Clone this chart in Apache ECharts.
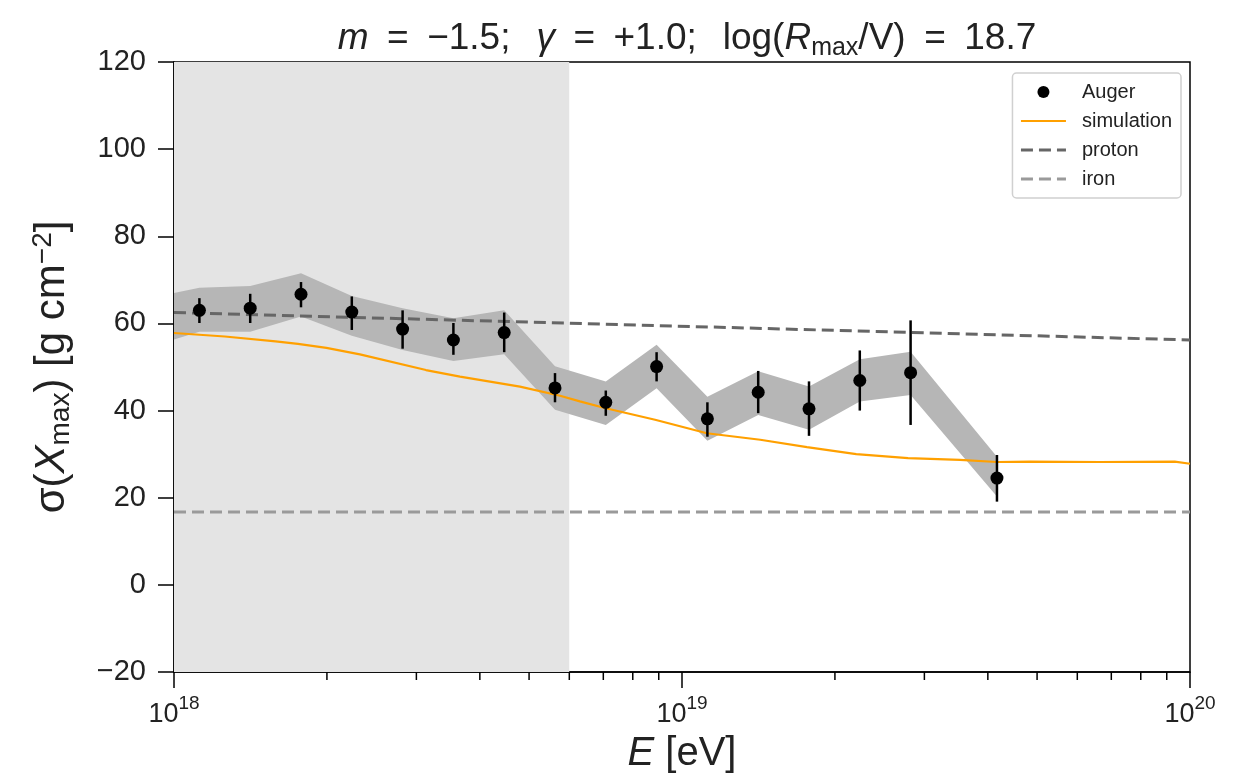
<!DOCTYPE html>
<html>
<head>
<meta charset="utf-8">
<script src="https://cdn.jsdelivr.net/npm/echarts@6/dist/echarts.min.js"></script>
<style>
html,body{margin:0;padding:0;background:#fff;}
#chart{width:1252px;height:774px;}
</style>
</head>
<body>
<div id="chart"></div>
<script>
// ---- data (x values are log10(E/eV)) ----
const xMajorExp = [18, 19, 20];
const augerX = [18.05, 18.15, 18.25, 18.35, 18.45, 18.55, 18.65, 18.75, 18.85, 18.95, 19.05, 19.15, 19.25, 19.35, 19.45, 19.62];
const augerY = [63.0, 63.5, 66.7, 62.6, 58.7, 56.2, 57.9, 45.2, 41.9, 50.1, 38.1, 44.2, 40.4, 46.9, 48.7, 24.5];
const augerLo = [60.1, 60.1, 63.7, 58.5, 54.2, 52.8, 53.4, 41.9, 38.8, 46.7, 34.0, 39.4, 34.2, 40.0, 36.7, 19.1];
const augerHi = [65.8, 66.8, 69.5, 66.2, 63.0, 60.1, 62.5, 48.6, 44.6, 53.4, 41.9, 49.1, 46.7, 53.8, 60.7, 29.8];
const bandX = [18.0, 18.05, 18.15, 18.25, 18.35, 18.45, 18.55, 18.65, 18.75, 18.85, 18.95, 19.05, 19.15, 19.25, 19.35, 19.45, 19.62];
const bandLow = [56.3, 58.1, 58.1, 61.6, 57.2, 53.9, 51.4, 52.9, 40.2, 36.7, 45.1, 33.1, 39.0, 35.6, 42.1, 43.6, 20.3];
const bandHigh = [67.0, 68.2, 68.6, 71.5, 66.3, 63.5, 61.2, 63.0, 50.2, 46.7, 55.1, 43.2, 49.0, 45.5, 51.8, 53.5, 29.4];
const simX = [18.0, 18.1, 18.2, 18.244, 18.3, 18.366, 18.496, 18.563, 18.681, 18.76, 18.799, 18.848, 18.947, 19.049, 19.154, 19.246, 19.343, 19.445, 19.547, 19.62, 19.685, 19.823, 19.97, 20.0];
const simY = [57.8, 57.0, 55.9, 55.3, 54.4, 52.9, 49.3, 47.8, 45.5, 43.4, 42.1, 40.6, 37.9, 34.8, 33.3, 31.6, 30.0, 29.1, 28.7, 28.2, 28.3, 28.2, 28.3, 27.8];
const protonX = [18.0, 20.0];
const protonY = [62.5, 56.2];
const ironX = [18.0, 20.0];
const ironY = [16.75, 16.75];
const shadeRange = [18.0, 18.778];
const yTicks = [-20, 0, 20, 40, 60, 80, 100, 120];

// minor tick positions (log10 of 2..9 x 10^n)
const minorTicks = [];
for (let d = 18; d < 20; d++) for (let k = 2; k <= 9; k++) minorTicks.push(d + Math.log10(k));

const FONT = 'Liberation Sans';
const TXT = '#222';
const chart = echarts.init(document.getElementById('chart'), null, {renderer: 'canvas'});

const hideSym = {opacity: 0, borderWidth: 0};
const EN = '\u2002', TH = '\u2009';

const option = {
  backgroundColor: '#fff',
  animation: false,
  title: {
    text: '{i|m}{n|' + EN + '=' + EN + '\u22121.5;' + EN + TH + '}{i|\u03b3}{n|' + EN + '=' + EN + '+1.0;' + EN + TH + 'log(}{i|R}{sub|max}{n|/V)' + EN + '=' + EN + '18.7}',
    left: 682,
    textAlign: 'center',
    top: 12,
    textStyle: {
      fontWeight: 'normal',
      rich: {
        n: {fontFamily: FONT, fontSize: 37, fontWeight: 'normal', color: TXT, lineHeight: 44},
        i: {fontFamily: FONT, fontSize: 37, fontWeight: 'normal', fontStyle: 'italic', color: TXT, lineHeight: 44},
        sub: {fontFamily: FONT, fontSize: 25, fontWeight: 'normal', color: TXT, lineHeight: 18, verticalAlign: 'bottom'}
      }
    }
  },
  legend: {
    right: 71,
    top: 73,
    orient: 'vertical',
    data: [
      {name: 'Auger'},
      {name: 'simulation', itemStyle: hideSym, lineStyle: {width: 2.2}},
      {name: 'proton', itemStyle: hideSym, lineStyle: {width: 3}},
      {name: 'iron', itemStyle: hideSym, lineStyle: {width: 3}}
    ],
    itemWidth: 45,
    itemHeight: 12,
    itemGap: 9,
    padding: [9, 9, 9, 7],
    backgroundColor: '#fff',
    borderColor: '#d0d0d0',
    borderWidth: 1.5,
    borderRadius: 4,
    textStyle: {fontFamily: FONT, fontSize: 20, lineHeight: 20, color: TXT, padding: [0, 0, 0, 11]}
  },
  grid: {left: 174, right: 62, top: 62, bottom: 102, show: true, borderColor: '#000', borderWidth: 1.5,
         backgroundColor: 'transparent', containLabel: false, outerBoundsMode: 'none'},
  xAxis: {
    type: 'value', min: 18, max: 20, interval: 1,
    name: '{i|E}{n| [eV]}', nameLocation: 'middle', nameGap: 62,
    nameTextStyle: {rich: {
      n: {fontFamily: FONT, fontSize: 40, color: TXT, lineHeight: 40},
      i: {fontFamily: FONT, fontSize: 40, fontStyle: 'italic', color: TXT, lineHeight: 40}
    }},
    axisLine: {show: true, onZero: false, lineStyle: {color: '#000', width: 1.5}},
    axisTick: {show: true, inside: false, length: 16, lineStyle: {color: '#000', width: 1.5}},
    splitLine: {show: false},
    axisLabel: {
      margin: 22,
      formatter: v => '{b|10}{s|' + Math.round(v) + '}',
      rich: {
        b: {fontFamily: FONT, fontSize: 27, color: TXT, lineHeight: 34, verticalAlign: 'bottom'},
        s: {fontFamily: FONT, fontSize: 19, color: TXT, lineHeight: 20, verticalAlign: 'top'}
      }
    }
  },
  yAxis: {
    type: 'value', min: -20, max: 120, interval: 20,
    name: '{n|\u03c3(}{i|X}{sub|max}{n|) [g cm}{sup|\u22122}{n|]}',
    nameLocation: 'middle', nameGap: 99, nameRotate: 90,
    nameTextStyle: {rich: {
      n: {fontFamily: FONT, fontSize: 42, color: TXT, lineHeight: 46},
      i: {fontFamily: FONT, fontSize: 42, fontStyle: 'italic', color: TXT, lineHeight: 46},
      sub: {fontFamily: FONT, fontSize: 28, color: TXT, lineHeight: 20, verticalAlign: 'bottom'},
      sup: {fontFamily: FONT, fontSize: 28, color: TXT, lineHeight: 20, verticalAlign: 'top'}
    }},
    axisLine: {show: true, onZero: false, lineStyle: {color: '#000', width: 1.5}},
    axisTick: {show: true, inside: false, length: 16, lineStyle: {color: '#000', width: 1.5}},
    splitLine: {show: false},
    axisLabel: {
      margin: 28,
      fontFamily: FONT, fontSize: 29, color: TXT,
      formatter: v => (v < 0 ? '\u2212' + Math.abs(v) : String(v))
    }
  },
  series: [
    {
      name: 'shade', type: 'custom', z: 1, silent: true,
      data: [[shadeRange[0], shadeRange[1]]],
      renderItem: (params, api) => {
        const p0 = api.coord([api.value(0), 120]);
        const p1 = api.coord([api.value(1), -20]);
        return {type: 'rect', shape: {x: p0[0], y: p0[1], width: p1[0] - p0[0], height: p1[1] - p0[1]}, style: {fill: '#e4e4e4'}};
      }
    },
    {
      name: 'band', type: 'custom', z: 2, silent: true,
      data: [[bandX[0], bandLow[0]]],
      renderItem: (params, api) => {
        const pts = [];
        for (let i = 0; i < bandX.length; i++) pts.push(api.coord([bandX[i], bandHigh[i]]));
        for (let i = bandX.length - 1; i >= 0; i--) pts.push(api.coord([bandX[i], bandLow[i]]));
        return {type: 'polygon', shape: {points: pts}, style: {fill: '#b6b6b6'}};
      }
    },
    {
      name: 'iron', type: 'line', z: 3, symbol: 'none', showSymbol: false,
      data: ironX.map((x, i) => [x, ironY[i]]),
      lineStyle: {color: '#9a9a9a', width: 3, type: [12, 6]},
      itemStyle: {color: '#9a9a9a'}
    },
    {
      name: 'proton', type: 'line', z: 3, symbol: 'none', showSymbol: false,
      data: protonX.map((x, i) => [x, protonY[i]]),
      lineStyle: {color: '#666666', width: 3, type: [12, 6]},
      itemStyle: {color: '#666666'}
    },
    {
      name: 'simulation', type: 'line', z: 3, symbol: 'none', showSymbol: false,
      data: simX.map((x, i) => [x, simY[i]]),
      lineStyle: {color: '#ffa000', width: 2.2},
      itemStyle: {color: '#ffa000'}
    },
    {
      name: 'errors', type: 'custom', z: 4, silent: true,
      data: augerX.map((x, i) => [x, augerLo[i], augerHi[i]]),
      renderItem: (params, api) => {
        const a = api.coord([api.value(0), api.value(1)]);
        const b = api.coord([api.value(0), api.value(2)]);
        return {type: 'line', shape: {x1: a[0], y1: a[1], x2: b[0], y2: b[1]}, style: {stroke: '#000', lineWidth: 2.5}};
      }
    },
    {
      name: 'Auger', type: 'scatter', z: 5, symbol: 'circle', symbolSize: 13,
      data: augerX.map((x, i) => [x, augerY[i]]),
      itemStyle: {color: '#000', opacity: 1}
    },
    {
      name: 'minorTicks', type: 'custom', z: 6, silent: true, clip: false,
      data: minorTicks.map(x => [x]),
      renderItem: (params, api) => {
        const p = api.coord([api.value(0), -20]);
        return {type: 'line', shape: {x1: p[0], y1: p[1], x2: p[0], y2: p[1] + 8}, style: {stroke: '#000', lineWidth: 1.5}};
      }
    }
  ]
};
chart.setOption(option);
</script>
</body>
</html>
